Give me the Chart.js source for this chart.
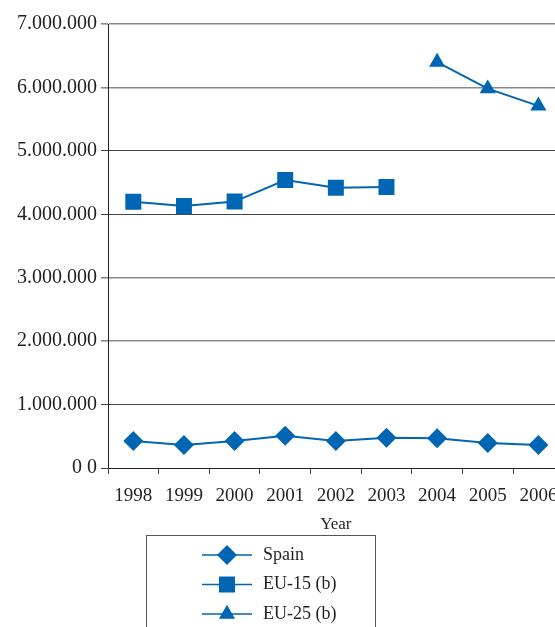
<!DOCTYPE html>
<html>
<head>
<meta charset="utf-8">
<script src="https://cdn.jsdelivr.net/npm/chart.js@4/dist/chart.umd.min.js"></script>
<style>
  html, body { margin: 0; padding: 0; background: #fff; overflow: hidden; width: 555px; height: 627px; }
  #wrap { width: 575px; height: 627px; }
</style>
</head>
<body>
<div id="wrap"><canvas id="c" width="575" height="627"></canvas></div>
<script>
const categories = ['1998', '1999', '2000', '2001', '2002', '2003', '2004', '2005', '2006'];
const spain = [426000, 363000, 426000, 510000, 426000, 478000, 468000, 394000, 363000];
const eu15 = [4196000, 4130000, 4200000, 4540000, 4420000, 4430000, null, null, null];
const eu25 = [null, null, null, null, null, null, 6400000, 5980000, 5710000];
const seriesNames = ['Spain', 'EU-15 (b)', 'EU-25 (b)'];
const yTicks = [0, 1000000, 2000000, 3000000, 4000000, 5000000, 6000000, 7000000];
const xTitle = 'Year';

const BLUE = '#0065b3';
const TEXT = '#231f20';
const FONT = "'Liberation Serif', 'Times New Roman', serif";

function fmt(v) {
  if (v === 0) return '0 0';
  return String(v).replace(/\B(?=(\d{3})+(?!\d))/g, '.');
}

const lightGrid = [2000000, 3000000, 6000000, 7000000];

const legendPlugin = {
  id: 'boxLegend',
  afterDraw(chart) {
    const ctx = chart.ctx;
    ctx.save();
    ctx.strokeStyle = '#555';
    ctx.lineWidth = 1;
    ctx.strokeRect(146.5, 535.5, 229, 120);
    chart.data.datasets.forEach((ds, i) => {
      const y = 555 + i * 29.5;
      ctx.strokeStyle = ds.borderColor;
      ctx.lineWidth = 1.3;
      ctx.beginPath();
      ctx.moveTo(202, y);
      ctx.lineTo(252, y);
      ctx.stroke();
      ctx.fillStyle = ds.pointBackgroundColor;
      ctx.strokeStyle = ds.pointBorderColor;
      Chart.helpers.drawPoint(ctx, { pointStyle: ds.pointStyle, radius: ds.pointRadius, rotation: 0, borderWidth: 0 }, 227, y);
      ctx.fillStyle = TEXT;
      ctx.font = "18px " + FONT;
      ctx.textBaseline = 'middle';
      ctx.textAlign = 'left';
      ctx.fillText(ds.label, 263, y);
    });
    ctx.restore();
  }
};

function mk(label, data, style, radius) {
  return {
    label, data,
    borderColor: BLUE, backgroundColor: BLUE,
    pointBackgroundColor: BLUE, pointBorderColor: BLUE,
    pointStyle: style, pointRadius: radius, pointHoverRadius: radius,
    pointBorderWidth: 0, borderWidth: 2, spanGaps: false, tension: 0
  };
}

new Chart(document.getElementById('c'), {
  type: 'line',
  data: {
    labels: categories,
    datasets: [
      mk(seriesNames[0], spain, 'rectRot', 10),
      mk(seriesNames[1], eu15, 'rect', 11.3),
      mk(seriesNames[2], eu25, 'triangle', 9.3)
    ]
  },
  plugins: [legendPlugin],
  options: {
    responsive: false,
    animation: false,
    devicePixelRatio: 1,
    layout: { padding: { left: 0, right: 7, top: 24, bottom: 92 } },
    plugins: { legend: { display: false }, tooltip: { enabled: false } },
    scales: {
      x: {
        offset: true,
        grid: { display: true, drawOnChartArea: false, drawTicks: true, tickLength: 6, color: '#444', offset: true },
        border: { display: true, color: '#222', width: 1 },
        ticks: { color: TEXT, font: { family: FONT, size: 19 }, padding: 11, maxRotation: 0, autoSkip: false },
        title: { display: true, text: xTitle, color: TEXT, font: { family: FONT, size: 17 }, padding: { top: 0, bottom: 0 } },
        afterFit(s) { s.height = 67; }
      },
      y: {
        min: 0, max: 7000000,
        afterBuildTicks(s) { s.ticks = yTicks.map(v => ({ value: v })); },
        grid: {
          drawTicks: true, tickLength: 7,
          color: c => (lightGrid.includes(c.tick && c.tick.value) ? '#8a8a8a' : '#444'),
          lineWidth: c => (lightGrid.includes(c.tick && c.tick.value) ? 1.6 : 1)
        },
        border: { display: true, color: '#222', width: 1 },
        ticks: { color: TEXT, font: { family: FONT, size: 20 }, padding: 4, callback: v => fmt(v) },
        afterFit(s) { s.width = 108; }
      }
    }
  }
});
</script>
</body>
</html>
